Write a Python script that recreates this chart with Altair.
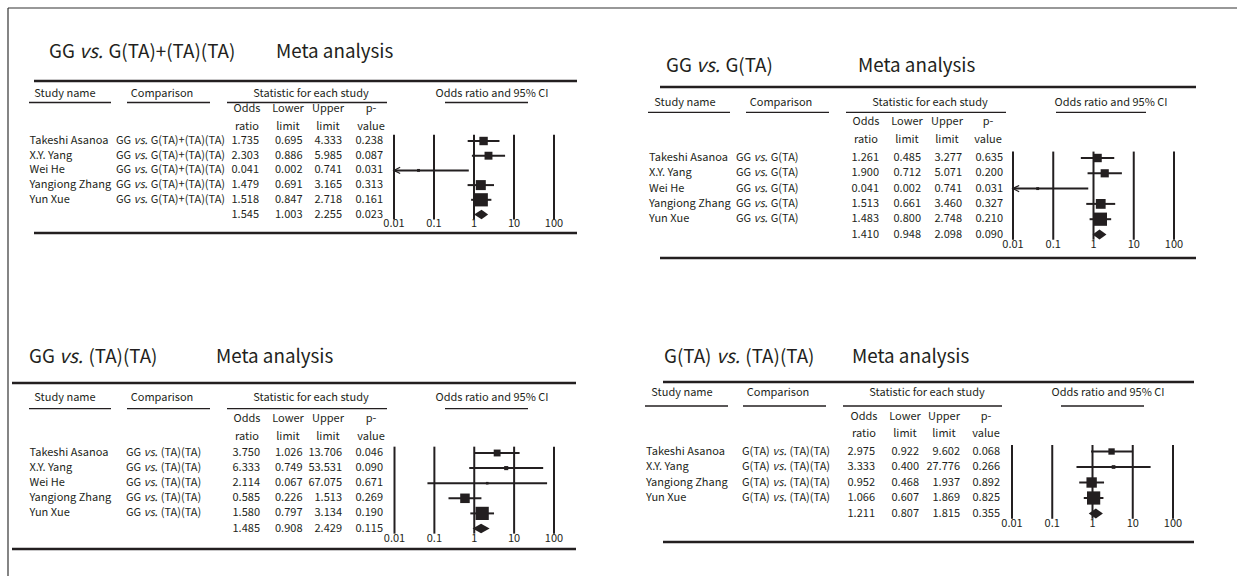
import altair as alt
import pandas as pd

FONT = '"Noto Sans CJK SC", "Source Sans Pro", sans-serif'
INK = "#231f20"
CANVAS_W, CANVAS_H = 1237, 576
TITLE_SIZE = 18.8
TABLE_SIZE = 11

# ---------------------------------------------------------------- data
TICKS = [0.01, 0.1, 1, 10, 100]
TICK_LABELS = ["0.01", "0.1", "1", "10", "100"]
HEADERS = ["Study name", "Comparison", "Statistic for each study", "Odds ratio and 95% CI"]
SUB_TOP = ["Odds", "Lower", "Upper", "p-"]
SUB_BOTTOM = ["ratio", "limit", "limit", "value"]

# GG vs. G(TA)+(TA)(TA)
a_names = ["Takeshi Asanoa", "X.Y. Yang", "Wei He", "Yangiong Zhang", "Yun Xue"]
a_or = [1.735, 2.303, 0.041, 1.479, 1.518]
a_lower = [0.695, 0.886, 0.002, 0.691, 0.847]
a_upper = [4.333, 5.985, 0.741, 3.165, 2.718]
a_p = [0.238, 0.087, 0.031, 0.313, 0.161]
a_weight = [17, 15, 2, 24, 42]
a_pooled = [1.545, 1.003, 2.255, 0.023]

# GG vs. G(TA)
b_names = ["Takeshi Asanoa", "X.Y. Yang", "Wei He", "Yangiong Zhang", "Yun Xue"]
b_or = [1.261, 1.900, 0.041, 1.513, 1.483]
b_lower = [0.485, 0.712, 0.002, 0.661, 0.800]
b_upper = [3.277, 5.071, 0.741, 3.460, 2.748]
b_p = [0.635, 0.200, 0.031, 0.327, 0.210]
b_weight = [17, 16, 2, 23, 42]
b_pooled = [1.410, 0.948, 2.098, 0.090]

# GG vs. (TA)(TA)
c_names = ["Takeshi Asanoa", "X.Y. Yang", "Wei He", "Yangiong Zhang", "Yun Xue"]
c_or = [3.750, 6.333, 2.114, 0.585, 1.580]
c_lower = [1.026, 0.749, 0.067, 0.226, 0.797]
c_upper = [13.706, 53.531, 67.075, 1.513, 3.134]
c_p = [0.046, 0.090, 0.671, 0.269, 0.190]
c_weight = [14, 5, 2, 27, 52]
c_pooled = [1.485, 0.908, 2.429, 0.115]

# G(TA) vs. (TA)(TA)
d_names = ["Takeshi Asanoa", "X.Y. Yang", "Yangiong Zhang", "Yun Xue"]
d_or = [2.975, 3.333, 0.952, 1.066]
d_lower = [0.922, 0.400, 0.468, 0.607]
d_upper = [9.602, 27.776, 1.937, 1.869]
d_p = [0.068, 0.266, 0.892, 0.825]
d_weight = [12, 4, 32, 52]
d_pooled = [1.211, 0.807, 1.815, 0.355]

PANELS = [
    dict(comparison=("GG", "vs.", "G(TA)+(TA)(TA)"), names=a_names, odds=a_or, lower=a_lower,
         upper=a_upper, p=a_p, weight=a_weight, pooled=a_pooled),
    dict(comparison=("GG", "vs.", "G(TA)"), names=b_names, odds=b_or, lower=b_lower,
         upper=b_upper, p=b_p, weight=b_weight, pooled=b_pooled),
    dict(comparison=("GG", "vs.", "(TA)(TA)"), names=c_names, odds=c_or, lower=c_lower,
         upper=c_upper, p=c_p, weight=c_weight, pooled=c_pooled),
    dict(comparison=("G(TA)", "vs.", "(TA)(TA)"), names=d_names, odds=d_or, lower=d_lower,
         upper=d_upper, p=d_p, weight=d_weight, pooled=d_pooled),
]

# ---------------------------------------------------------------- layout (pixels)
LAYOUTS = [
    dict(title_at=(49, 57.5), meta_x=276, rule_x=(34, 577), rule_top=81, rule_bottom=233,
         head_y=93.5, underline_y=102.5,
         heads=[(65, 29, 111), (162, 127, 210), (311, 227, 387), (492, 445, 528)],
         sub_y=(109, 126.5), sub_x=[247, 288, 328, 371],
         name_x=29.5, comp_x=116, num_x=[259, 302.5, 342, 383],
         row_first=141, row_pooled=214.5, forest_x=(394, 554)),
    dict(title_at=(666, 71.5), meta_x=858, rule_x=(660, 1196), rule_top=87, rule_bottom=258,
         head_y=102.7, underline_y=112.4,
         heads=[(685, 648, 730), (781, 746, 829), (930, 846, 1006), (1111, 1056, 1146)],
         sub_y=(122.3, 140.3), sub_x=[866, 907, 947, 988],
         name_x=649, comp_x=736, num_x=[879, 921, 962, 1003],
         row_first=158, row_pooled=234.5, forest_x=(1013, 1174)),
    dict(title_at=(29, 362.6), meta_x=216, rule_x=(12, 576), rule_top=383, rule_bottom=549,
         head_y=397.7, underline_y=408.6,
         heads=[(65, 29, 111), (162, 127, 210), (311, 227, 387), (492, 445, 528)],
         sub_y=(418.8, 437), sub_x=[247, 288, 328, 371],
         name_x=29.5, comp_x=126, num_x=[260, 302.5, 342, 383],
         row_first=453, row_pooled=528.5, forest_x=(394.5, 554)),
    dict(title_at=(664, 363), meta_x=852, rule_x=(663, 1194), rule_top=382, rule_bottom=542,
         head_y=393, underline_y=406,
         heads=[(682, 645, 728), (778, 743, 826), (927, 843, 1002), (1108, 1061, 1144)],
         sub_y=(416.7, 433.5), sub_x=[864, 905, 944, 986],
         name_x=646, comp_x=742, num_x=[875, 919, 960, 1000],
         row_first=451.5, row_pooled=513.5, forest_x=(1012, 1173)),
]

# advance widths (1/1000 em) of the sans used, for placing the italic "vs."
ADVANCE = {"G": 692, "T": 562, "A": 615, "(": 342, ")": 342, "+": 562,
           " ": 226, "v": 511, "s": 451, ".": 281}
SLANT_GAP = 0.08  # extra room (em) after the slanted "vs."


def text_width(s, size):
    return sum(ADVANCE[c] for c in s) / 1000 * size


PIX_X = alt.Scale(domain=[0, CANVAS_W], range=[0, CANVAS_W], nice=False, zero=False)
PIX_Y = alt.Scale(domain=[0, CANVAS_H], range=[0, CANVAS_H], nice=False, zero=False)


def px(field):
    return alt.X(field, type="quantitative", scale=PIX_X, axis=None)


def py(field):
    return alt.Y(field, type="quantitative", scale=PIX_Y, axis=None)


def text_mark(**kw):
    base = dict(font=FONT, color=INK, fontSize=TABLE_SIZE)
    base.update(kw)
    return base


def split_parts(parts, x0, size):
    pre, mid, post = parts
    x_mid = x0 + text_width(pre + " ", size)
    x_post = x_mid + text_width(mid + " ", size) + SLANT_GAP * size
    return x_mid, x_post


def panel_layers(d, L):
    n = len(d["names"])
    rows = alt.Scale(domain=[0, n], range=[L["row_first"], L["row_pooled"]], nice=False, zero=False)
    logx = alt.Scale(type="log", domain=[TICKS[0], TICKS[-1]], range=list(L["forest_x"]),
                     clamp=True, nice=False)

    def ry(field):
        return alt.Y(field, type="quantitative", scale=rows, axis=None)

    def lx(field):
        return alt.X(field, type="quantitative", scale=logx, axis=None)

    layers = []
    pre, mid, post = d["comparison"]

    # title
    tx, ty = L["title_at"]
    t_mid, t_post = split_parts(d["comparison"], tx, TITLE_SIZE)
    title_df = pd.DataFrame({"x": [tx, t_post, L["meta_x"]], "y": [ty] * 3,
                             "t": [pre, post, "Meta analysis"]})
    layers.append(alt.Chart(title_df).mark_text(**text_mark(
        align="left", baseline="alphabetic", fontSize=TITLE_SIZE)).encode(
        x=px("x"), y=py("y"), text="t:N"))
    layers.append(alt.Chart(pd.DataFrame({"x": [t_mid], "y": [ty], "t": [mid]})).mark_text(
        **text_mark(align="left", baseline="alphabetic", fontSize=TITLE_SIZE, fontStyle="italic")).encode(
        x=px("x"), y=py("y"), text="t:N"))

    # thick rules above and below the table
    x0, x1 = L["rule_x"]
    rule_df = pd.DataFrame({"x0": [x0, x0], "x1": [x1, x1], "y": [L["rule_top"], L["rule_bottom"]]})
    layers.append(alt.Chart(rule_df).mark_rule(color=INK, strokeWidth=2.6).encode(
        x=px("x0"), x2="x1", y=py("y")))

    # group headers with their underlines
    head_df = pd.DataFrame({"x": [h[0] for h in L["heads"]], "y": [L["head_y"]] * 4, "t": HEADERS})
    layers.append(alt.Chart(head_df).mark_text(**text_mark(align="center", baseline="middle")).encode(
        x=px("x"), y=py("y"), text="t:N"))
    under_df = pd.DataFrame({"x0": [h[1] for h in L["heads"]], "x1": [h[2] for h in L["heads"]],
                             "y": [L["underline_y"]] * 4})
    layers.append(alt.Chart(under_df).mark_rule(color=INK, strokeWidth=1.3).encode(
        x=px("x0"), x2="x1", y=py("y")))

    # column headers (two lines)
    sub_df = pd.DataFrame({"x": L["sub_x"] * 2,
                           "y": [L["sub_y"][0]] * 4 + [L["sub_y"][1]] * 4,
                           "t": SUB_TOP + SUB_BOTTOM})
    layers.append(alt.Chart(sub_df).mark_text(**text_mark(align="center", baseline="middle")).encode(
        x=px("x"), y=py("y"), text="t:N"))

    # study names
    name_df = pd.DataFrame({"x": [L["name_x"]] * n, "row": list(range(n)), "t": d["names"]})
    layers.append(alt.Chart(name_df).mark_text(**text_mark(align="left", baseline="middle")).encode(
        x=px("x"), y=ry("row"), text="t:N"))

    # comparison column, with an italic "vs."
    c_mid, c_post = split_parts(d["comparison"], L["comp_x"], TABLE_SIZE)
    comp_df = pd.DataFrame({"x": [L["comp_x"]] * n + [c_post] * n,
                            "row": list(range(n)) * 2, "t": [pre] * n + [post] * n})
    layers.append(alt.Chart(comp_df).mark_text(**text_mark(align="left", baseline="middle")).encode(
        x=px("x"), y=ry("row"), text="t:N"))
    vs_df = pd.DataFrame({"x": [c_mid] * n, "row": list(range(n)), "t": [mid] * n})
    layers.append(alt.Chart(vs_df).mark_text(**text_mark(align="left", baseline="middle",
                                                         fontStyle="italic")).encode(
        x=px("x"), y=ry("row"), text="t:N"))

    # numeric columns, pooled estimate on the last row
    recs = []
    for j, key in enumerate(["odds", "lower", "upper", "p"]):
        for i, v in enumerate(list(d[key]) + [d["pooled"][j]]):
            recs.append({"x": L["num_x"][j], "row": i, "v": v})
    layers.append(alt.Chart(pd.DataFrame(recs)).mark_text(
        **text_mark(align="right", baseline="middle")).encode(
        x=px("x"), y=ry("row"), text=alt.Text("v:Q", format=".3f")))

    # forest plot: reference lines at each decade
    grid_df = pd.DataFrame({"tick": TICKS, "top": [-0.42] * 5, "bottom": [n + 0.34] * 5})
    layers.append(alt.Chart(grid_df).mark_rule(color=INK, strokeWidth=2).encode(
        x=lx("tick"), y=ry("top"), y2="bottom"))

    study_df = pd.DataFrame({"row": list(range(n)), "odds": d["odds"], "lower": d["lower"],
                             "upper": d["upper"], "weight": d["weight"]})
    layers.append(alt.Chart(study_df).mark_rule(color=INK, strokeWidth=2).encode(
        x=lx("lower"), x2="upper", y=ry("row")))
    layers.append(alt.Chart(study_df).mark_square(color=INK, opacity=1, filled=True).encode(
        x=lx("odds"), y=ry("row"),
        size=alt.Size("weight:Q", scale=alt.Scale(domain=[0, max(d["weight"])], range=[0, 175]),
                      legend=None)))

    off_scale = study_df[study_df["lower"] < TICKS[0]]
    if len(off_scale):
        layers.append(alt.Chart(off_scale).mark_point(
            shape="M1,-1L-1,0L1,1", filled=False, color=INK, opacity=1, size=40,
            strokeWidth=1.2, xOffset=3).encode(x=lx("lower"), y=ry("row")))

    # pooled diamond
    po, pl, pu, _ = d["pooled"]
    dia_df = pd.DataFrame({"x": [pl, po, pu], "y0": [n, n - 0.32, n], "y1": [n, n + 0.32, n]})
    layers.append(alt.Chart(dia_df).mark_area(color=INK, opacity=1, orient="vertical").encode(
        x=lx("x"), y=ry("y0"), y2="y1"))

    # decade labels
    lab_df = pd.DataFrame({"tick": TICKS, "row": [n + 0.68] * 5, "t": TICK_LABELS})
    layers.append(alt.Chart(lab_df).mark_text(**text_mark(align="center", baseline="middle")).encode(
        x=lx("tick"), y=ry("row"), text="t:N"))
    return layers


# figure frame (top and left edges)
frame_df = pd.DataFrame({"x0": [8, 8], "y0": [8, 8], "x1": [CANVAS_W, 8], "y1": [8, CANVAS_H]})
frame = alt.Chart(frame_df).mark_rule(color="#333333", strokeWidth=1.2).encode(
    x=px("x0"), y=py("y0"), x2="x1", y2="y1")

all_layers = [frame]
for data, layout in zip(PANELS, LAYOUTS):
    all_layers.extend(panel_layers(data, layout))

chart = alt.layer(*all_layers).resolve_scale(
    x="independent", y="independent", size="independent"
).properties(
    width=CANVAS_W, height=CANVAS_H, padding=0,
    autosize=alt.AutoSizeParams(type="none"),
    background="white",
).configure_view(stroke=None)

chart.save("out.html", embed_options={"renderer": "svg", "actions": False})
